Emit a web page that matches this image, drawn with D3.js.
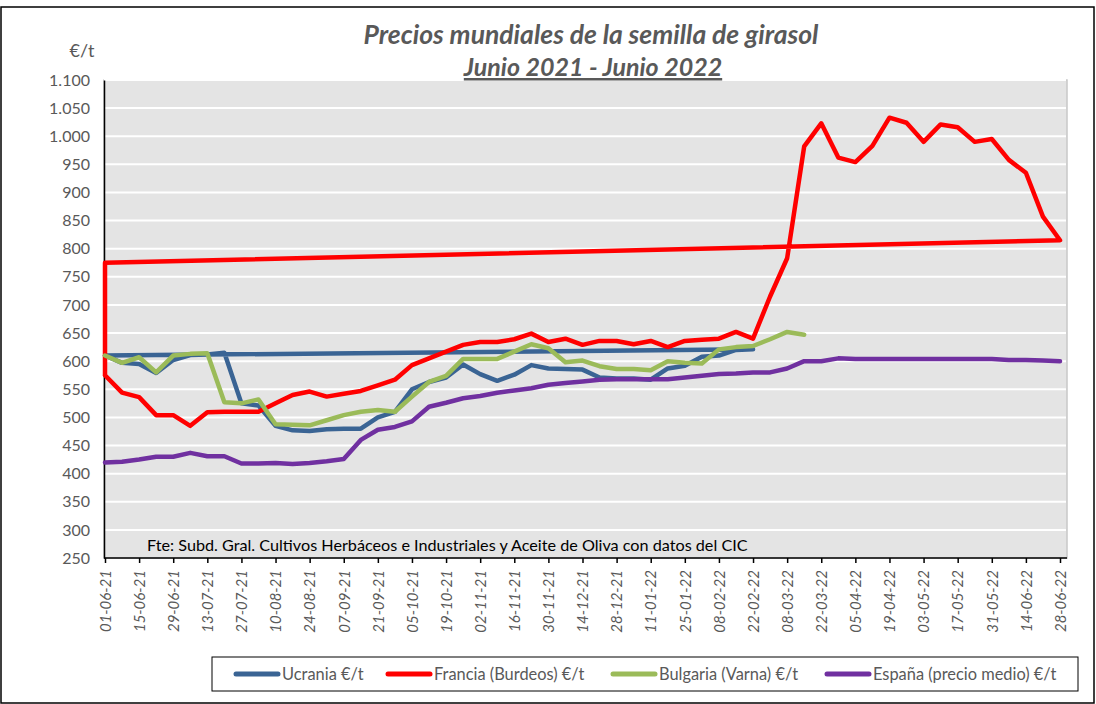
<!DOCTYPE html>
<html><head><meta charset="utf-8">
<script src="https://cdn.jsdelivr.net/npm/d3@7"></script>
<style>
html,body{margin:0;padding:0;background:#fff;}
svg{display:block;font-family:Lato,"Open Sans",sans-serif;}
</style></head>
<body>
<svg id="c" width="1096" height="704"></svg>
<script>
// ---- data ----
const inicio = "01-06-21";           // first weekly observation
const nSemanas = 57;                  // weekly observations to 28-06-22
const tickLabels = ["01-06-21","15-06-21","29-06-21","13-07-21","27-07-21","10-08-21","24-08-21","07-09-21","21-09-21","05-10-21","19-10-21","02-11-21","16-11-21","30-11-21","14-12-21","28-12-21","11-01-22","25-01-22","08-02-22","22-02-22","08-03-22","22-03-22","05-04-22","19-04-22","03-05-22","17-05-22","31-05-22","14-06-22","28-06-22"];
const yTicks = [250,300,350,400,450,500,550,600,650,700,750,800,850,900,950,1000,1050,1100];

const ucrania = [610,597,595,579,602,611,612,615,525,521,485,477,476,479,480,480,500,510,550,563,571,594,577,565,576,593,587,586,585,571,569,569,567,587,592,608,610,620,621];
const ucraniaRetorno = [610]; // line returns to first date
const francia = [575,544,536,504,504,485,509,510,510,510,525,540,546,537,542,547,557,567,593,605,617,629,634,634,639,649,634,640,629,636,636,630,636,625,636,638,640,652,640,715,783,982,1023,962,954,983,1033,1024,990,1021,1016,990,995,958,935,857,815];
const franciaRetorno = [775,575]; // line returns to first date
const bulgaria = [610,597,607,580,610,613,614,527,525,532,488,487,486,495,504,510,513,510,537,563,574,604,604,604,617,630,623,598,601,591,586,586,584,600,597,596,621,625,627,639,652,647];
const espana = [420,421,425,430,430,437,431,431,418,418,419,417,419,422,426,460,478,483,493,519,526,534,538,544,548,552,558,561,564,567,568,568,568,568,571,574,577,578,580,580,587,600,600,605,604,604,604,604,604,604,604,604,604,602,602,601,600];

const seriesNames = ["Ucrania €/t","Francia (Burdeos) €/t","Bulgaria (Varna) €/t","España (precio medio) €/t"];
const seriesColors = ["#3A6494","#FF0000","#9BBB59","#7030A0"];

// ---- build ----
const parse = d3.timeParse("%d-%m-%y");
const fmt = d3.timeFormat("%d-%m-%y");
const t0 = parse(inicio);
const fechas = d3.range(nSemanas).map(i => d3.timeDay.offset(t0, 7*i));
const tickDates = tickLabels.map(parse);

const svg = d3.select("#c");
const L = 104, R = 1067, T = 80, B = 558;
const x = d3.scaleTime().domain([fechas[0], fechas[fechas.length-1]]).range([105, 1060]);
const y = d3.scaleLinear().domain([250,1100]).range([B, T]);

// outer frame
svg.append("rect").attr("x",1).attr("y",7).attr("width",1093).attr("height",696)
  .attr("fill","#fff").attr("stroke","#000").attr("stroke-width",1.5);

// plot area
svg.append("rect").attr("x",L).attr("y",T).attr("width",R-L).attr("height",B-T)
  .attr("fill","#E4E4E4").attr("stroke","#C8C8C8").attr("stroke-width",1.5);

// gridlines
svg.append("g").selectAll("line").data(yTicks.filter(v=>v>250)).join("line")
  .attr("x1",L).attr("x2",R-1).attr("y1",d=>y(d)).attr("y2",d=>y(d))
  .attr("stroke","#fff").attr("stroke-width",2);

// y axis
const yAxis = d3.axisLeft(y).tickValues(yTicks).tickSize(0).tickPadding(14)
  .tickFormat(d => d3.format(",")(d).replace(",", "."));
const gy = svg.append("g").attr("transform",`translate(${L},0)`).call(yAxis);
gy.select(".domain").attr("stroke","#000").attr("stroke-width",1.5);
gy.selectAll("text").attr("font-size",16).attr("fill","#595959").attr("font-family","Lato");

// x axis
const xAxis = d3.axisBottom(x).tickValues(tickDates).tickSize(5).tickFormat(fmt).tickSizeOuter(0);
const gx = svg.append("g").attr("transform",`translate(0,${B})`).call(xAxis);
gx.select(".domain").attr("stroke","#000").attr("stroke-width",1.5).attr("d",`M${L},0H${R}`);
gx.selectAll(".tick line").attr("stroke","#000").attr("stroke-width",1.5);
gx.selectAll("text").attr("font-size",15).attr("fill","#595959").attr("font-style","italic")
  .attr("font-family","Lato")
  .attr("transform","rotate(-90)").attr("text-anchor","end").attr("dy","0.35em").attr("x",-12).attr("y",0);

// source note
svg.append("text").attr("x",147).attr("y",551).attr("font-size",16.2).attr("fill","#000")
  .text("Fte: Subd. Gral. Cultivos Herbáceos e Industriales y Aceite de Oliva con datos del CIC");

// lines
const line = d3.line().x(d=>x(d[0])).y(d=>y(d[1])).curve(d3.curveLinear);
function pts(vals){ return vals.map((v,i)=>[fechas[i],v]); }
const paths = [
  pts(ucrania).concat(ucraniaRetorno.map(v=>[fechas[0],v])),
  pts(francia).concat(franciaRetorno.map(v=>[fechas[0],v])),
  pts(bulgaria),
  pts(espana)
];
svg.append("g").selectAll("path").data(paths).join("path")
  .attr("d",line).attr("fill","none")
  .attr("stroke",(d,i)=>seriesColors[i]).attr("stroke-width",4.5)
  .attr("stroke-linejoin","round").attr("stroke-linecap","round");

// titles
svg.append("text").attr("x",591).attr("y",44).attr("text-anchor","middle")
  .attr("font-size",26.5).attr("font-weight","bold").attr("font-style","italic").attr("fill","#595959")
  .text("Precios mundiales de la semilla de girasol");
svg.append("text").attr("x",593).attr("y",76).attr("text-anchor","middle")
  .attr("font-size",25).attr("font-weight","bold").attr("font-style","italic").attr("fill","#595959")
  .attr("text-decoration","underline")
  .text("Junio 2021 - Junio 2022");
svg.append("text").attr("x",82).attr("y",57).attr("text-anchor","middle")
  .attr("font-size",18).attr("fill","#595959").text("€/t");

// legend
svg.append("rect").attr("x",212).attr("y",657).attr("width",866).attr("height",34)
  .attr("fill","#fff").attr("stroke","#000").attr("stroke-width",1);
const legX = [236,388,613,827];
const lg = svg.append("g").selectAll("g").data(seriesNames).join("g")
  .attr("transform",(d,i)=>`translate(${legX[i]},674)`);
lg.append("line").attr("x1",0).attr("x2",42).attr("y1",0).attr("y2",0)
  .attr("stroke",(d,i)=>seriesColors[i]).attr("stroke-width",5).attr("stroke-linecap","round");
lg.append("text").attr("x",46).attr("y",0).attr("dy","0.35em").attr("font-size",16.4).attr("fill","#595959")
  .text(d=>d);
</script>
</body></html>
